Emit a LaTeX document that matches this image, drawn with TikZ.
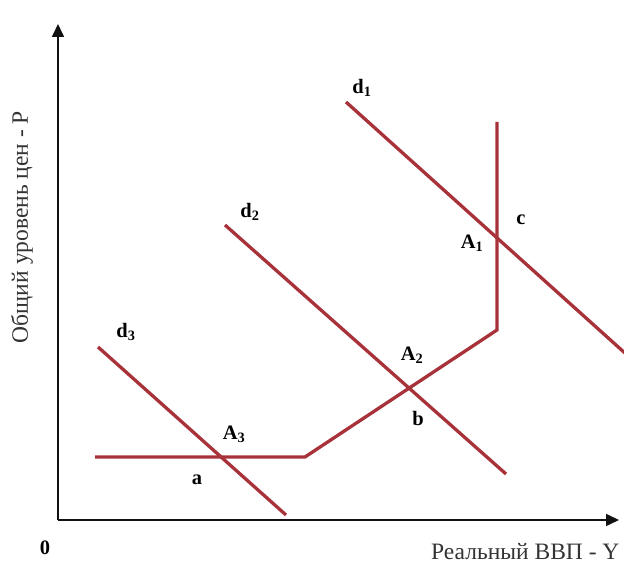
\documentclass[tikz,border=0pt]{standalone}
\usepackage{fontspec}
\setmainfont{Liberation Serif}
\usetikzlibrary{arrows.meta}
\definecolor{curve}{HTML}{A8323A}
\definecolor{axis}{HTML}{111111}

\begin{document}
\begin{tikzpicture}[x=1pt,y=1pt,>={Triangle[length=13pt,width=12pt]}]
  \useasboundingbox (0,0) rectangle (624,564);
  \tikzset{
    lbl/.style={font=\fontsize{20.5}{20}\selectfont\bfseries},
    axlabel/.style={font=\fontsize{23.5}{24}\selectfont,text=black!80},
    line/.style={curve,line width=3.3pt}
  }
  % axes
  \coordinate (O) at (58,44);
  \coordinate (ytop) at (58,540);
  \coordinate (xend) at (619,44);
  \draw[axis,line width=1.6pt,->] (O) -- (ytop);
  \draw[axis,line width=1.6pt,->] (O) -- (xend);
  \node[lbl] (zero) at (45,16) {0};
  \node[axlabel,anchor=east] (xlab) at (623,12) {Реальный ВВП - Y};
  \node[axlabel,rotate=90] (ylab) at (22,337) {Общий уровень цен - P};
  % supply curve
  \coordinate (s1) at (95,107);
  \coordinate (s2) at (305,107);
  \coordinate (s3) at (497,234);
  \coordinate (s4) at (497,442);
  \draw[line] (s1) -- (s2) -- (s3) -- (s4);
  % demand curves
  \coordinate (d1a) at (346,462); \coordinate (d1b) at (626,210);
  \coordinate (d2a) at (225,339); \coordinate (d2b) at (506,90);
  \coordinate (d3a) at (98,217);  \coordinate (d3b) at (286,49);
  \draw[line] (d1a) -- (d1b);
  \draw[line] (d2a) -- (d2b);
  \draw[line] (d3a) -- (d3b);
  % labels
  \node[lbl] (nd1) at (362,476) {d\textsubscript{\normalfont\bfseries 1}};
  \node[lbl] (nd2) at (250,352) {d\textsubscript{\normalfont\bfseries 2}};
  \node[lbl] (nd3) at (126,232) {d\textsubscript{\normalfont\bfseries 3}};
  \node[lbl] (nA1) at (472,321) {A\textsubscript{\normalfont\bfseries 1}};
  \node[lbl] (nA2) at (412,209) {A\textsubscript{\normalfont\bfseries 2}};
  \node[lbl] (nA3) at (234,130) {A\textsubscript{\normalfont\bfseries 3}};
  \node[lbl] (nc) at (521,344) {c};
  \node[lbl] (nb) at (418,146) {b};
  \node[lbl] (na) at (197,84) {a};
\end{tikzpicture}
\end{document}
